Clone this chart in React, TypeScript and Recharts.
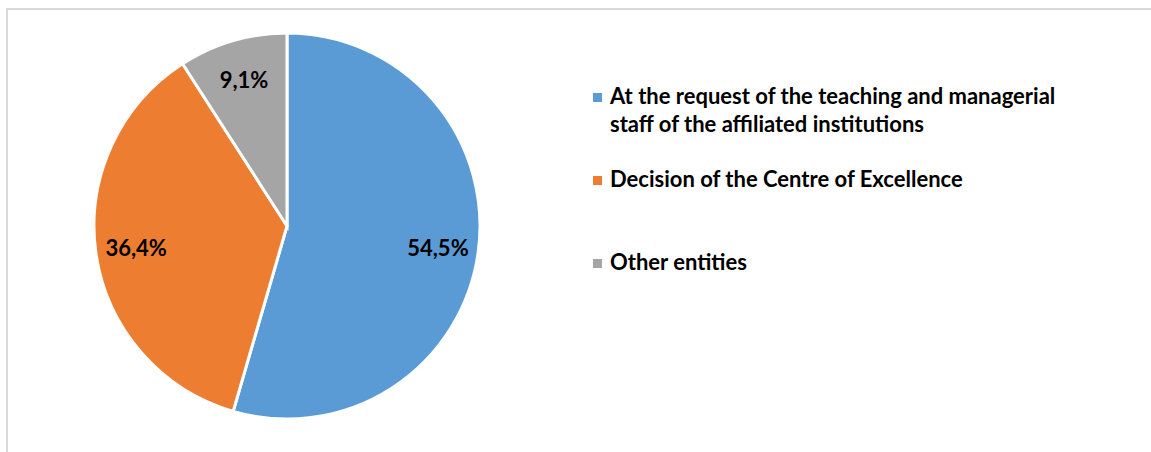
import React from 'react';
import { PieChart, Pie, Cell, Legend } from 'recharts';

const categories = [
  'At the request of the teaching and managerial staff of the affiliated institutions',
  'Decision of the Centre of Excellence',
  'Other entities',
];
const shares = [54.5, 36.4, 9.1];
const labels = ['54,5%', '36,4%', '9,1%'];
const colors = ['#5B9BD5', '#ED7D31', '#A5A5A5'];

const data = categories.map((name, i) => ({ name, value: shares[i], label: labels[i] }));

const FONT = 'Lato, "Open Sans", sans-serif';
const RAD = Math.PI / 180;

if (typeof document !== 'undefined') {
  document.body.style.margin = '0';
}

// data label placed inside the slice along its mid angle
const renderLabel = (props: any) => {
  const { cx, cy, midAngle, outerRadius, index } = props;
  const r = outerRadius * 0.79;
  const x = cx + r * Math.cos(-midAngle * RAD);
  const y = cy + r * Math.sin(-midAngle * RAD);
  return (
    <text
      x={x}
      y={y}
      textAnchor="middle"
      dominantBaseline="central"
      fill="#000"
      fontFamily={FONT}
      fontWeight={700}
      fontSize={22}
    >
      {data[index].label}
    </text>
  );
};

const LegendContent = () => (
  <div style={{ fontFamily: FONT, fontWeight: 700, fontSize: 22, lineHeight: '28px', color: '#000' }}>
    {data.map((d, i) => (
      <div key={d.name} style={{ position: 'relative', height: 83, paddingLeft: 17, width: 470 }}>
        <span
          style={{
            position: 'absolute',
            left: 0,
            top: 11,
            width: 9,
            height: 9,
            background: colors[i],
          }}
        />
        {d.name}
      </div>
    ))}
  </div>
);

export default function App() {
  return (
    <div style={{ position: 'relative', width: 1151, height: 452, overflow: 'hidden', background: '#fff' }}>
      <div style={{ position: 'absolute', left: 6, top: 8, width: 2, height: 460, background: '#D9D9D9' }} />
      <div style={{ position: 'absolute', left: 6, top: 8, width: 1160, height: 2, background: '#D9D9D9' }} />
      <div style={{ position: 'absolute', left: 0, top: 0 }}>
        <PieChart width={1151} height={452} margin={{ top: 0, right: 0, bottom: 0, left: 0 }}>
          <Pie
            data={data}
            dataKey="value"
            nameKey="name"
            cx={287}
            cy={226}
            outerRadius={193}
            startAngle={90}
            endAngle={-270}
            stroke="#fff"
            strokeWidth={3}
            label={renderLabel}
            labelLine={false}
            isAnimationActive={false}
          >
            {data.map((d, i) => (
              <Cell key={d.name} fill={colors[i]} />
            ))}
          </Pie>
          <Legend
            content={<LegendContent />}
            wrapperStyle={{ left: 593, top: 82, width: 500 }}
          />
        </PieChart>
      </div>
    </div>
  );
}
